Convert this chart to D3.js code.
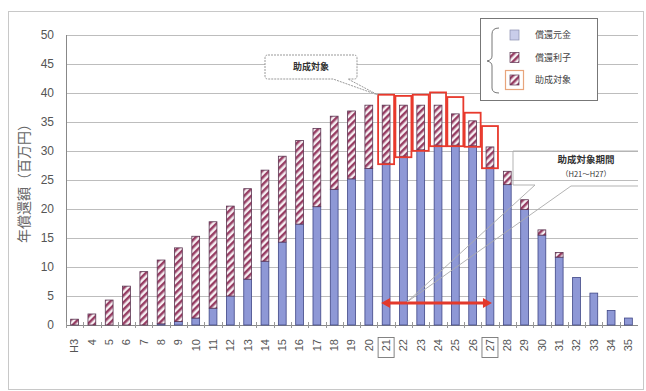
<!DOCTYPE html>
<html lang="ja">
<head>
<meta charset="UTF-8">
<title>年償還額</title>
<style>
  body { margin: 0; background: #fff; }
  svg { display: block; }
  .tick-y { font-family: "Liberation Sans Narrow", "Liberation Sans", sans-serif; font-size: 12px; fill: #555; }
  .tick-x { font-family: "Liberation Sans Narrow", "Liberation Sans", sans-serif; font-size: 11px; fill: #555; }
  .jp { font-family: "Noto Sans CJK JP", sans-serif; }
</style>
</head>
<body>
<div id="chart"></div>
<script src="https://cdn.jsdelivr.net/npm/d3@7/dist/d3.min.js"></script>
<script>
// fiscal years H3 .. H35
const years = ["H3","4","5","6","7","8","9","10","11","12","13","14","15","16","17","18","19",
               "20","21","22","23","24","25","26","27","28","29","30","31","32","33","34","35"];
// 償還元金 (principal), 百万円
const principal = [0,0,0,0,0,0.2,0.6,1.2,2.9,5.0,7.9,11.0,14.3,17.4,20.4,23.4,25.2,
                   27.0,27.9,29.1,30.2,31.0,31.0,30.9,27.2,24.2,19.9,15.5,11.7,8.2,5.5,2.5,1.2];
// 償還利子 (interest), 百万円
const interest = [1.0,1.9,4.3,6.7,9.2,11.0,12.7,14.1,14.9,15.5,15.6,15.7,14.8,14.4,13.5,12.6,11.7,
                  10.9,10.0,8.8,7.7,6.9,5.4,4.3,3.5,2.3,1.7,0.9,0.8,0,0,0,0];
// 助成対象 (H21-H27): red frames round the interest part
const targetYears = ["21","22","23","24","25","26","27"];
const targetTop = [39.7,39.5,39.7,40.1,39.3,36.6,34.3];
const yTicks = [0,5,10,15,20,25,30,35,40,45,50];
const legendItems = ["償還元金","償還利子","助成対象"];

const W = 646, H = 391;
const svg = d3.select("#chart").append("svg").attr("width", W).attr("height", H);

const x = d3.scaleBand().domain(years).range([66, 637]).paddingInner(0.55).paddingOuter(0.27);
const y = d3.scaleLinear().domain([0, 50]).range([325, 35]);
const cx = d => x(d) + x.bandwidth() / 2;

// hatch pattern
const defs = svg.append("defs");
const pat = defs.append("pattern").attr("id", "hatch").attr("patternUnits", "userSpaceOnUse")
  .attr("width", 5).attr("height", 5).attr("patternTransform", "rotate(45)");
pat.append("rect").attr("width", 5).attr("height", 5).attr("fill", "#f6f0f3");
pat.append("rect").attr("width", 2.5).attr("height", 5).attr("fill", "#973d63");

// outer frame
svg.append("rect").attr("x", 8.5).attr("y", 11.5).attr("width", 635).attr("height", 378)
  .attr("fill", "none").attr("stroke", "#c8c8c8");

// grid
svg.append("g").selectAll("line").data(yTicks.filter(d => d > 0)).join("line")
  .attr("x1", 66).attr("x2", 638).attr("y1", d => Math.round(y(d)) + 0.5).attr("y2", d => Math.round(y(d)) + 0.5)
  .attr("stroke", "#bdbdbd").attr("stroke-width", 1.2);

// y labels
svg.append("g").selectAll("text").data(yTicks).join("text").attr("class", "tick-y")
  .attr("x", 54).attr("y", d => y(d)).attr("dy", "0.35em").attr("text-anchor", "end").text(d => d);

// axes lines
svg.append("line").attr("x1", 66.5).attr("x2", 66.5).attr("y1", 35).attr("y2", 325).attr("stroke", "#888");
svg.append("line").attr("x1", 66).attr("x2", 638).attr("y1", 325.5).attr("y2", 325.5).attr("stroke", "#888");
svg.append("g").selectAll("line").data(years).join("line")
  .attr("x1", d => Math.round(x(d) - x.step() * x.paddingInner() / 2) + 0.5)
  .attr("x2", d => Math.round(x(d) - x.step() * x.paddingInner() / 2) + 0.5)
  .attr("y1", 322).attr("y2", 328).attr("stroke", "#999");

// y title
svg.append("text").attr("class", "jp").attr("transform", "translate(29,180) rotate(-90)")
  .attr("text-anchor", "middle").attr("font-size", 14).attr("fill", "#666").text("年償還額（百万円）");

// bars
const bars = svg.append("g").selectAll("g").data(years).join("g");
bars.filter((d, i) => principal[i] > 0).append("rect")
  .attr("x", d => x(d)).attr("width", x.bandwidth())
  .attr("y", d => y(principal[years.indexOf(d)]))
  .attr("height", d => y(0) - y(principal[years.indexOf(d)]))
  .attr("fill", "#8e98d6").attr("stroke", "#3f4686").attr("stroke-width", 0.8);
bars.filter((d, i) => interest[i] > 0).append("rect")
  .attr("x", d => x(d)).attr("width", x.bandwidth())
  .attr("y", d => { const i = years.indexOf(d); return y(principal[i] + interest[i]); })
  .attr("height", d => y(0) - y(interest[years.indexOf(d)]))
  .attr("fill", "url(#hatch)").attr("stroke", "#5a3350").attr("stroke-width", 0.8);

// x labels
svg.append("g").selectAll("text").data(years).join("text").attr("class", "tick-x")
  .attr("transform", d => `translate(${cx(d)},339) rotate(-90)`)
  .attr("text-anchor", "end").attr("dy", "0.35em").text(d => d);
svg.append("g").selectAll("rect").data([targetYears[0], targetYears[targetYears.length - 1]]).join("rect")
  .attr("x", d => cx(d) - 8).attr("y", 337.5).attr("width", 16).attr("height", 20)
  .attr("fill", "none").attr("stroke", "#777").attr("stroke-width", 0.9);

// red frames
svg.append("g").selectAll("rect").data(targetYears).join("rect")
  .attr("x", d => cx(d) - 8).attr("width", 16)
  .attr("y", (d, i) => y(targetTop[i]))
  .attr("height", (d, i) => y(principal[years.indexOf(d)]) + 1 - y(targetTop[i]))
  .attr("fill", "none").attr("stroke", "#e8392c").attr("stroke-width", 1.8);

// double arrow H21..H27
const ay = y(3.8), ax1 = cx("21") - 5, ax2 = cx("27") + 2;
svg.append("line").attr("x1", ax1 + 6).attr("x2", ax2 - 6).attr("y1", ay).attr("y2", ay)
  .attr("stroke", "#e3392b").attr("stroke-width", 3);
svg.append("path").attr("d", `M${ax1},${ay} l9,-5 v10 z M${ax2},${ay} l-9,-5 v10 z`).attr("fill", "#e3392b");

// callout: 助成対象
svg.append("path")
  .attr("d", "M268,55 H354 Q357,55 357,58 V76 Q357,79 354,79 H348 L378,95 L333,79 H268 Q265,79 265,76 V58 Q265,55 268,55 Z")
  .attr("fill", "#fff").attr("stroke", "#999").attr("stroke-width", 1).attr("stroke-dasharray", "2,1");
svg.append("text").attr("class", "jp").attr("x", 311).attr("y", 67).attr("dy", "0.35em")
  .attr("text-anchor", "middle").attr("font-size", 9).attr("font-weight", "bold").attr("fill", "#333").text("助成対象");

// callout: 助成対象期間
svg.append("path")
  .attr("d", "M513,151 H638 M513,151 V185 H535 L407,302 L571,186 H638")
  .attr("fill", "none").attr("stroke", "#aaa").attr("stroke-width", 0.9);
svg.append("text").attr("class", "jp").attr("x", 586).attr("y", 159.5).attr("dy", "0.35em")
  .attr("text-anchor", "middle").attr("font-size", 9.5).attr("font-weight", "bold").attr("fill", "#333").text("助成対象期間");
svg.append("text").attr("class", "jp").attr("x", 586).attr("y", 174).attr("dy", "0.35em")
  .attr("text-anchor", "middle").attr("font-size", 7.5).attr("fill", "#333").text("（H21～H27）");

// legend
const lg = svg.append("g");
lg.append("rect").attr("x", 480.5).attr("y", 18.5).attr("width", 117).attr("height", 82)
  .attr("fill", "#fff").attr("stroke", "#777").attr("stroke-width", 1);
lg.append("path").attr("d", "M499,28 Q492,28 492,34 V56 Q492,60 487,61 Q492,62 492,66 V88 Q492,93 499,93")
  .attr("fill", "none").attr("stroke", "#777").attr("stroke-width", 1);
const ly = d3.scalePoint().domain(legendItems).range([35, 80]);
lg.append("rect").attr("x", 505.5).attr("y", ly(legendItems[2]) - 9.5).attr("width", 18).attr("height", 19)
  .attr("fill", "none").attr("stroke", "#e8a57c").attr("stroke-width", 1.2);
lg.selectAll("rect.sw").data(legendItems).join("rect").attr("class", "sw")
  .attr("x", 510).attr("y", d => ly(d) - 5).attr("width", 9).attr("height", 10)
  .attr("fill", (d, i) => i === 0 ? "#c9cdea" : "url(#hatch)")
  .attr("stroke", (d, i) => i === 0 ? "#8a8fb0" : "#5a3350").attr("stroke-width", 0.7);
lg.selectAll("text").data(legendItems).join("text").attr("class", "jp")
  .attr("x", 535).attr("y", d => ly(d)).attr("dy", "0.35em").attr("font-size", 9)
  .attr("fill", "#444").text(d => d);
</script>
</body>
</html>
